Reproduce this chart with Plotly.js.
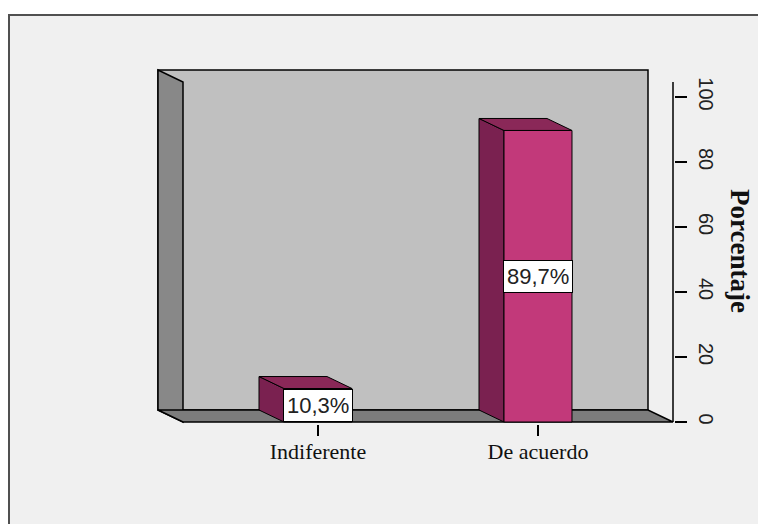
<!DOCTYPE html>
<html>
<head>
<meta charset="utf-8">
<script src="https://cdn.plot.ly/plotly-3.0.1.min.js"></script>
<style>html,body{margin:0;padding:0;background:#fff;}#chart{width:758px;height:524px;}</style>
</head>
<body>
<div id="chart"></div>
<script>
// ---- data ----
const categories = ['Indiferente', 'De acuerdo'];
const porcentajes = [10.3, 89.7];
const yTickVals = [0, 20, 40, 60, 80, 100];
const yAxisTitle = 'Porcentaje';

// ---- geometry (pixels) ----
const W = 758, H = 524;
const plotL = 155, plotR = 674, plotT = 68, plotB = 424;
const cat0Px = 318, catStepPx = 220;      // category spacing
const zeroPx = 422, pxPerUnit = 3.25;      // y scale
const frontL = 183, frontR = 673, frontT = 82;
const depthPxX = 25, depthPxY = 12;
const barWidth = 0.309;

const xRange = [(plotL - cat0Px) / catStepPx, (plotR - cat0Px) / catStepPx];
const yRange = [(zeroPx - plotB) / pxPerUnit, (zeroPx - plotT) / pxPerUnit];
const xL = (frontL - cat0Px) / catStepPx, xR = (frontR - cat0Px) / catStepPx;
const yTop = (zeroPx - frontT) / pxPerUnit;
const dX = depthPxX / catStepPx, dY = depthPxY / pxPerUnit;

function poly(pts) { return 'M' + pts.map(p => p[0] + ',' + p[1]).join('L') + 'Z'; }
function paperX(px) { return (px - plotL) / (plotR - plotL); }
function paperY(py) { return (plotB - py) / (plotB - plotT); }

const xIdx = categories.map((c, i) => i);

const shapes = [];
// outer panel
shapes.push({type: 'rect', xref: 'paper', yref: 'paper', layer: 'below',
  x0: paperX(9), x1: paperX(780), y0: paperY(15), y1: paperY(560),
  fillcolor: '#f0f0f0', line: {color: '#505050', width: 2}});
// back wall
shapes.push({type: 'path', xref: 'x', yref: 'y', layer: 'below',
  path: poly([[xL - dX, dY], [xR - dX, dY], [xR - dX, yTop + dY], [xL - dX, yTop + dY]]),
  fillcolor: '#c0c0c0', line: {color: '#000', width: 1.5}});
// left wall
shapes.push({type: 'path', xref: 'x', yref: 'y', layer: 'below',
  path: poly([[xL - dX, dY], [xL, 0], [xL, yTop], [xL - dX, yTop + dY]]),
  fillcolor: '#888888', line: {color: '#000', width: 1.5}});
// floor
shapes.push({type: 'path', xref: 'x', yref: 'y', layer: 'below',
  path: poly([[xL, 0], [xR, 0], [xR - dX, dY], [xL - dX, dY]]),
  fillcolor: '#7c7c7c', line: {color: '#000', width: 1.5}});
// bar side and top faces
porcentajes.forEach((v, i) => {
  const x0 = xIdx[i] - barWidth / 2, x1 = xIdx[i] + barWidth / 2;
  shapes.push({type: 'path', xref: 'x', yref: 'y', layer: 'below',
    path: poly([[x0, 0], [x0, v], [x0 - dX, v + dY], [x0 - dX, dY]]),
    fillcolor: '#7a2150', line: {color: '#000', width: 1}});
  shapes.push({type: 'path', xref: 'x', yref: 'y', layer: 'below',
    path: poly([[x0, v], [x1, v], [x1 - dX, v + dY], [x0 - dX, v + dY]]),
    fillcolor: '#8a2858', line: {color: '#000', width: 1}});
});
// y axis line (front plane)
shapes.push({type: 'line', xref: 'x', yref: 'y', layer: 'above',
  x0: xR, x1: xR, y0: 0, y1: yTop, line: {color: '#000', width: 1.5}});

const annotations = porcentajes.map((v, i) => ({
  x: xIdx[i], y: v / 2, xref: 'x', yref: 'y',
  text: v.toFixed(1).replace('.', ',') + '%', showarrow: false,
  xanchor: 'center', yanchor: 'middle',
  bgcolor: '#ffffff', bordercolor: '#000', borderwidth: 1, borderpad: 3,
  font: {family: 'Liberation Sans, Arial, sans-serif', size: 22, color: '#222'}
}));
annotations.push({
  xref: 'paper', yref: 'paper', x: paperX(740), y: paperY(251),
  xanchor: 'center', yanchor: 'middle',
  text: '<b>' + yAxisTitle + '</b>', showarrow: false, textangle: 90,
  font: {family: 'Liberation Serif, Times New Roman, serif', size: 27, color: '#111'}
});

const trace = {
  type: 'bar', x: xIdx, y: porcentajes, width: barWidth,
  marker: {color: '#c2397a', line: {color: '#000', width: 1}},
  hoverinfo: 'none'
};

const layout = {
  width: W, height: H,
  margin: {l: plotL, r: W - plotR, t: plotT, b: H - plotB, pad: 0},
  paper_bgcolor: '#ffffff', plot_bgcolor: 'rgba(0,0,0,0)',
  showlegend: false,
  xaxis: {range: xRange, tickvals: xIdx, ticktext: categories, showgrid: false,
    zeroline: false, showline: false, ticks: 'outside', ticklen: 11, tickwidth: 1.5,
    tickcolor: '#000', ticklabelstandoff: -3,
    tickfont: {family: 'Liberation Serif, Times New Roman, serif', size: 22, color: '#111'}},
  yaxis: {range: yRange, side: 'right', tickvals: yTickVals, showgrid: false,
    zeroline: false, showline: false, ticks: 'outside', ticklen: 12, tickwidth: 1.5,
    tickcolor: '#000', tickangle: 90, ticklabelstandoff: 4,
    tickfont: {family: 'Liberation Sans, Arial, sans-serif', size: 20, color: '#222'}},
  shapes: shapes, annotations: annotations
};

Plotly.newPlot('chart', [trace], layout, {staticPlot: true, displayModeBar: false});
</script>
</body>
</html>
